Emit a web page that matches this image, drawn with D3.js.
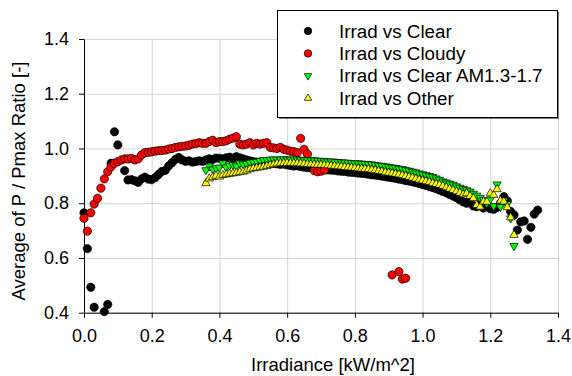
<!DOCTYPE html>
<html>
<head>
<script src="https://d3js.org/d3.v7.min.js"></script>
<style>
  body { margin: 0; background: #fff; }
  svg { display: block; font-family: Arial, "Liberation Sans", sans-serif; }
  .grid line { stroke: #d4d4d4; stroke-width: 1; }
  .grid path { display: none; }
  .axis text { font-size: 18px; fill: #000; }
  .axis path, .axis line { stroke: #000; }
</style>
</head>
<body>
<div id="chart"></div>
<script>
// [irradiance, ratio] pairs
var clearPts = [[0.00,.765],[0.01,.634],[0.02,.493],[0.03,.420],[0.06,.404],[0.07,.430],[0.08,.946],[0.09,1.061],[0.10,1.013],
  [0.12,.919],[0.13,.885],[0.14,.886],[0.15,.882],[0.16,.876],[0.17,.889],[0.18,.895],[0.19,.888],[0.20,.886],[0.21,.893],
  [0.22,.905],[0.23,.916],[0.24,.920],[0.25,.936],[0.26,.948],[0.27,.960],[0.28,.967],[0.29,.958],[0.30,.953],[0.31,.955],
  [0.32,.950],[0.33,.952],[0.34,.955],[0.35,.953],[0.36,.958],[0.37,.962],[0.38,.960],[0.39,.965],[0.40,.964],[0.41,.962],
  [0.42,.966],[0.43,.968],[0.44,.965],[0.45,.970],[0.46,.966],[0.47,.962],[0.48,.958],[0.49,.955],[0.50,.952],[0.51,.950],
  [0.52,.948],[0.53,.950],[0.54,.948],[0.55,.945],[0.56,.946],[0.57,.944],[0.58,.942],[0.59,.943],[0.60,.940],[0.61,.938],
  [0.62,.936],[0.63,.937],[0.64,.934],[0.65,.932],[0.66,.930],[0.67,.931],[0.68,.928],[0.69,.926],[0.70,.925],[0.71,.924],
  [0.72,.922],[0.73,.921],[0.74,.920],[0.75,.918],[0.76,.917],[0.77,.916],[0.78,.914],[0.79,.913],[0.80,.912],[0.81,.910],
  [0.82,.909],[0.83,.908],[0.84,.906],[0.85,.904],[0.86,.903],[0.87,.901],[0.88,.899],[0.89,.897],[0.90,.895],[0.91,.893],
  [0.92,.891],[0.93,.888],[0.94,.886],[0.95,.883],[0.96,.881],[0.97,.878],[0.98,.875],[0.99,.872],[1.00,.868],[1.01,.865],
  [1.02,.861],[1.03,.857],[1.04,.853],[1.05,.848],[1.06,.843],[1.07,.838],[1.08,.832],[1.09,.826],[1.10,.820],[1.11,.812],
  [1.12,.805],[1.13,.800],[1.14,.808],[1.15,.790],[1.16,.787],[1.17,.795],[1.18,.782],[1.19,.790],[1.20,.780],[1.21,.778],
  [1.22,.785],[1.23,.800],[1.24,.824],[1.25,.809],[1.26,.770],[1.27,.757],[1.28,.702],[1.29,.732],[1.30,.735],[1.31,.668],
  [1.32,.712],[1.33,.760],[1.34,.775]];

var cloudyPts = [[0.00,.745],[0.01,.698],[0.02,.765],[0.03,.797],[0.04,.818],[0.05,.855],[0.06,.889],[0.07,.915],[0.08,.933],
  [0.09,.946],[0.10,.952],[0.11,.958],[0.12,.962],[0.13,.962],[0.14,.964],[0.15,.958],[0.16,.962],[0.17,.976],[0.18,.985],
  [0.19,.986],[0.20,.988],[0.21,.990],[0.22,.992],[0.23,.993],[0.24,.994],[0.25,.998],[0.26,1.000],[0.27,1.004],[0.28,1.006],
  [0.29,1.008],[0.30,1.009],[0.31,1.012],[0.32,1.016],[0.33,1.018],[0.34,1.021],[0.35,1.019],[0.36,1.019],[0.37,1.025],
  [0.38,1.030],[0.39,1.021],[0.40,1.025],[0.41,1.025],[0.42,1.028],[0.43,1.034],[0.44,1.038],[0.45,1.043],[0.46,1.016],
  [0.47,1.013],[0.48,1.016],[0.49,1.021],[0.50,1.013],[0.51,1.019],[0.52,1.016],[0.53,1.019],[0.54,1.021],[0.55,1.004],
  [0.56,1.002],[0.57,1.000],[0.58,1.004],[0.59,.997],[0.60,.994],[0.61,.990],[0.62,.988],[0.63,.985],[0.64,1.037],[0.65,.997],
  [0.66,.979],[0.68,.919],[0.69,.915],[0.70,.917],[0.71,.921],
  [0.91,.538],[0.93,.550],[0.94,.523],[0.95,.526]];

var amPts = [[0.36,.921],[0.37,.935],[0.38,.924],[0.39,.928],[0.40,.931],[0.41,.946],[0.42,.931],[0.43,.938],[0.44,.940],
  [0.45,.935],[0.46,.946],[0.47,.942],[0.48,.945],[0.49,.948],[0.50,.950],[0.51,.952],[0.52,.955],[0.53,.958],[0.54,.958],
  [0.55,.960],[0.56,.960],[0.57,.960],[0.58,.960],[0.59,.961],[0.60,.960],[0.61,.960],[0.62,.960],[0.63,.960],[0.64,.959],
  [0.65,.958],[0.66,.958],[0.67,.957],[0.68,.957],[0.69,.956],[0.70,.955],[0.71,.954],[0.72,.953],[0.73,.953],[0.74,.952],
  [0.75,.951],[0.76,.950],[0.77,.949],[0.78,.948],[0.79,.947],[0.80,.946],[0.81,.946],[0.82,.945],[0.83,.944],[0.84,.943],
  [0.85,.942],[0.86,.940],[0.87,.938],[0.88,.937],[0.89,.935],[0.90,.933],[0.91,.931],[0.92,.929],[0.93,.927],[0.94,.925],
  [0.95,.922],[0.96,.919],[0.97,.916],[0.98,.913],[0.99,.909],[1.00,.906],[1.01,.903],[1.02,.900],[1.03,.896],[1.04,.891],
  [1.05,.886],[1.06,.880],[1.07,.876],[1.08,.872],[1.09,.868],[1.10,.862],[1.11,.857],[1.12,.852],[1.13,.848],[1.14,.843],
  [1.15,.835],[1.16,.828],[1.17,.820],[1.18,.812],[1.19,.800],[1.20,.814],[1.21,.790],[1.22,.869],[1.23,.787],[1.24,.810],
  [1.25,.797],[1.26,.745],[1.27,.644]];

var otherPts = [[0.36,.873],[0.37,.890],[0.38,.895],[0.39,.900],[0.40,.897],[0.41,.903],[0.42,.905],[0.43,.907],[0.44,.909],
  [0.45,.911],[0.46,.913],[0.47,.915],[0.48,.919],[0.49,.924],[0.50,.927],[0.51,.929],[0.52,.931],[0.53,.933],[0.54,.936],
  [0.55,.939],[0.56,.942],[0.57,.945],[0.58,.946],[0.59,.947],[0.60,.947],[0.61,.947],[0.62,.946],[0.63,.946],[0.64,.945],
  [0.65,.944],[0.66,.943],[0.67,.942],[0.68,.941],[0.69,.940],[0.70,.940],[0.71,.939],[0.72,.938],[0.73,.937],[0.74,.936],
  [0.75,.935],[0.76,.934],[0.77,.932],[0.78,.931],[0.79,.930],[0.80,.929],[0.81,.927],[0.82,.926],[0.83,.925],[0.84,.924],
  [0.85,.922],[0.86,.920],[0.87,.918],[0.88,.916],[0.89,.913],[0.90,.911],[0.91,.909],[0.92,.907],[0.93,.905],[0.94,.902],
  [0.95,.899],[0.96,.896],[0.97,.893],[0.98,.889],[0.99,.886],[1.00,.883],[1.01,.880],[1.02,.877],[1.03,.873],[1.04,.870],
  [1.05,.867],[1.06,.863],[1.07,.858],[1.08,.853],[1.09,.848],[1.10,.843],[1.11,.838],[1.12,.832],[1.13,.836],[1.14,.826],
  [1.15,.818],[1.16,.793],[1.17,.787],[1.18,.806],[1.19,.805],[1.20,.836],[1.21,.830],[1.22,.851],[1.23,.809],[1.24,.806],
  [1.25,.785],[1.26,.748],[1.27,.684]];

var xTicks = [0, 0.2, 0.4, 0.6, 0.8, 1.0, 1.2, 1.4];
var yTicks = [0.4, 0.6, 0.8, 1.0, 1.2, 1.4];
var seriesNames = ["Irrad vs Clear", "Irrad vs Cloudy", "Irrad vs Clear AM1.3-1.7", "Irrad vs Other"];

var series = [
  { name: seriesNames[0], pts: clearPts, shape: "circle", fill: "#000000" },
  { name: seriesNames[1], pts: cloudyPts, shape: "circle", fill: "#ff0000" },
  { name: seriesNames[2], pts: amPts, shape: "down", fill: "#00ff00" },
  { name: seriesNames[3], pts: otherPts, shape: "up", fill: "#ffff00" }
];

var W = 572, H = 376;
var pLeft = 84, pRight = 558, pTop = 39, pBottom = 312.7;

var x = d3.scaleLinear().domain([0, 1.4]).range([pLeft, pRight]);
var y = d3.scaleLinear().domain([0.4, 1.4]).range([pBottom, pTop]);

var svg = d3.select("#chart").append("svg").attr("width", W).attr("height", H);

// gridlines
svg.append("g").attr("class", "grid")
  .attr("transform", "translate(0," + pBottom + ")")
  .call(d3.axisBottom(x).tickValues(xTicks).tickSize(-(pBottom - pTop)).tickFormat(""));
svg.append("g").attr("class", "grid")
  .attr("transform", "translate(" + pLeft + ",0)")
  .call(d3.axisLeft(y).tickValues(yTicks).tickSize(-(pRight - pLeft)).tickFormat(""));

// axes
var xAxis = svg.append("g").attr("class", "axis")
  .attr("transform", "translate(0," + pBottom + ")")
  .call(d3.axisBottom(x).tickValues(xTicks).tickSize(5).tickSizeOuter(0).tickPadding(12).tickFormat(d3.format(".1f")));
var yAxis = svg.append("g").attr("class", "axis")
  .attr("transform", "translate(" + pLeft + ",0)")
  .call(d3.axisLeft(y).tickValues(yTicks).tickSize(5).tickSizeOuter(0).tickPadding(10).tickFormat(d3.format(".1f")));
xAxis.selectAll("text").attr("font-family", null);
yAxis.selectAll("text").attr("font-family", null);

function markerPath(shape, s) {
  if (shape === "circle") return d3.symbol().type(d3.symbolCircle).size(s)();
  return d3.symbol().type(d3.symbolTriangle).size(s)();
}

var plot = svg.append("g");
series.forEach(function(sr) {
  plot.append("g").selectAll("path")
    .data(sr.pts)
    .enter()
    .append("path")
    .attr("d", markerPath(sr.shape, sr.shape === "circle" ? 54 : 30))
    .attr("transform", function(d) {
      return "translate(" + x(d[0]) + "," + y(d[1]) + ")" + (sr.shape === "down" ? " rotate(180)" : "");
    })
    .attr("fill", sr.fill)
    .attr("stroke", "#000")
    .attr("stroke-width", 0.7);
});

// legend
var lg = svg.append("g");
lg.append("rect").attr("x", 279).attr("y", 12).attr("width", 280).attr("height", 107).attr("fill", "#808080");
lg.append("rect").attr("x", 277.5).attr("y", 10.5).attr("width", 280).attr("height", 107)
  .attr("fill", "#fff").attr("stroke", "#000").attr("stroke-width", 1);
series.forEach(function(sr, i) {
  var cy = 31 + i * 22.4;
  lg.append("path")
    .attr("d", markerPath(sr.shape, sr.shape === "circle" ? 44 : 24))
    .attr("transform", "translate(308," + cy + ")" + (sr.shape === "down" ? " rotate(180)" : ""))
    .attr("fill", sr.fill).attr("stroke", "#000").attr("stroke-width", 0.7);
  lg.append("text").attr("x", 339).attr("y", cy + 6.5)
    .attr("font-size", 18.8).attr("fill", "#000").text(sr.name);
});

// axis titles
svg.append("text").attr("x", 333).attr("y", 371).attr("text-anchor", "middle")
  .attr("font-size", 18.5).attr("fill", "#000").text("Irradiance [kW/m^2]");
svg.append("text").attr("transform", "translate(25,181) rotate(-90)").attr("text-anchor", "middle")
  .attr("font-size", 18.5).attr("fill", "#000").text("Average of P / Pmax Ratio [-]");
</script>
</body>
</html>
